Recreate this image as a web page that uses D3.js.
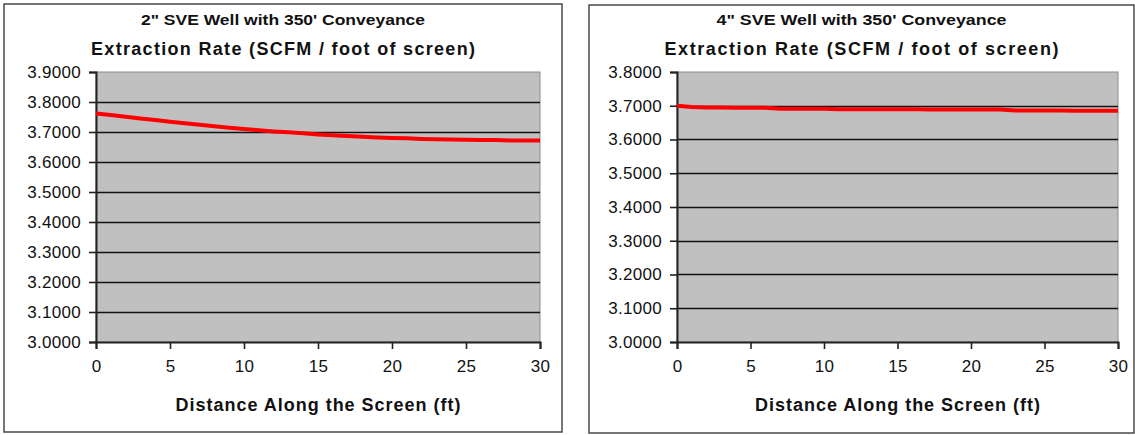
<!DOCTYPE html>
<html>
<head>
<meta charset="utf-8">
<script src="https://cdn.jsdelivr.net/npm/d3@7"></script>
<style>
  html, body { margin: 0; padding: 0; background: #fff; }
  svg { display: block; }
  text { font-family: "Liberation Sans", Arial, sans-serif; fill: #111; }
</style>
</head>
<body>
<svg id="chart" width="1135" height="435"></svg>
<script>
// Distance along the well screen, in feet
const distanceFt = [0, 1, 2, 3, 4, 5, 6, 7, 8, 9, 10, 11, 12, 13, 14, 15,
                    16, 17, 18, 19, 20, 21, 22, 23, 24, 25, 26, 27, 28, 29, 30];

// Extraction rate per foot of screen, 2" well
const rate2in = [3.762, 3.757, 3.751, 3.745, 3.740, 3.734, 3.729, 3.724, 3.719, 3.714,
                 3.710, 3.706, 3.702, 3.699, 3.696, 3.692, 3.689, 3.687, 3.684, 3.682,
                 3.680, 3.679, 3.677, 3.676, 3.675, 3.674, 3.673, 3.673, 3.672, 3.672, 3.672];

// Extraction rate per foot of screen, 4" well
const rate4in = [3.700, 3.696, 3.695, 3.695, 3.694, 3.694, 3.694, 3.691, 3.691, 3.691,
                 3.691, 3.690, 3.690, 3.690, 3.690, 3.690, 3.690, 3.689, 3.689, 3.689,
                 3.689, 3.689, 3.689, 3.686, 3.686, 3.686, 3.686, 3.685, 3.685, 3.685, 3.685];

const xTickValues = [0, 5, 10, 15, 20, 25, 30];
const yTicks2in = [3.0, 3.1, 3.2, 3.3, 3.4, 3.5, 3.6, 3.7, 3.8, 3.9];
const yTicks4in = [3.0, 3.1, 3.2, 3.3, 3.4, 3.5, 3.6, 3.7, 3.8];

const titles2in = ["2\" SVE Well with 350' Conveyance", "Extraction Rate (SCFM / foot of screen)"];
const titles4in = ["4\" SVE Well  with 350' Conveyance", "Extraction Rate (SCFM / foot of screen)"];
const xAxisTitle = "Distance Along the Screen (ft)";

const svg = d3.select("#chart");
const fmt = d3.format(".4f");

function drawPanel(p) {
  const g = svg.append("g");

  // chart frame
  g.append("rect")
    .attr("x", p.frame[0]).attr("y", p.frame[1])
    .attr("width", p.frame[2] - p.frame[0]).attr("height", p.frame[3] - p.frame[1])
    .attr("fill", "#fff").attr("stroke", "#4a4a4a").attr("stroke-width", 1.5);

  const x = d3.scaleLinear().domain([0, 30]).range([p.plot[0], p.plot[2]]);
  const y = d3.scaleLinear().domain(d3.extent(p.yTicks)).range([p.plot[3], p.plot[1]]);

  // plot area
  g.append("rect")
    .attr("x", p.plot[0]).attr("y", p.plot[1])
    .attr("width", p.plot[2] - p.plot[0]).attr("height", p.plot[3] - p.plot[1])
    .attr("fill", "#c0c0c0").attr("stroke", "#8c8c8c").attr("stroke-width", 1);

  // horizontal gridlines
  g.append("g").selectAll("line")
    .data(p.yTicks.slice(1, -1))
    .join("line")
    .attr("x1", p.plot[0]).attr("x2", p.plot[2])
    .attr("y1", d => Math.round(y(d)) + 0.5).attr("y2", d => Math.round(y(d)) + 0.5)
    .attr("stroke", "#111").attr("stroke-width", 1.6);

  // y axis
  const yAxis = d3.axisLeft(y).tickValues(p.yTicks).tickFormat(fmt)
    .tickSize(7).tickPadding(8);
  const ya = g.append("g").attr("transform", `translate(${p.plot[0]},0)`).call(yAxis);
  ya.select(".domain").attr("stroke", "#222").attr("stroke-width", 2);
  ya.selectAll(".tick line").attr("stroke", "#222").attr("stroke-width", 1.6);
  ya.selectAll(".tick text")
    .attr("font-size", 17).attr("letter-spacing", 0.3)
    .attr("fill", "#222").style("font-family", "'Liberation Sans', Arial, sans-serif");

  // x axis
  const xAxis = d3.axisBottom(x).tickValues(xTickValues).tickFormat(d3.format("d"))
    .tickSize(7).tickPadding(11);
  const xa = g.append("g").attr("transform", `translate(0,${p.plot[3]})`).call(xAxis);
  xa.select(".domain").attr("stroke", "#222").attr("stroke-width", 2);
  xa.selectAll(".tick line").attr("stroke", "#222").attr("stroke-width", 1.6);
  xa.selectAll(".tick text")
    .attr("font-size", 17).attr("letter-spacing", 0.3)
    .attr("fill", "#222").style("font-family", "'Liberation Sans', Arial, sans-serif");

  // data series
  const line = d3.line().x((d, i) => x(distanceFt[i])).y(d => y(d));
  g.append("path")
    .datum(p.values)
    .attr("d", line)
    .attr("fill", "none")
    .attr("stroke", "#ff0000")
    .attr("stroke-width", 4);

  // titles
  const cx = (p.frame[0] + p.frame[2]) / 2;
  g.append("text")
    .attr("x", cx).attr("y", 25).attr("text-anchor", "middle")
    .attr("font-size", 14.5).attr("font-weight", "bold")
    .attr("textLength", p.titleW[0]).attr("lengthAdjust", "spacingAndGlyphs")
    .text(p.titles[0]);
  g.append("text")
    .attr("x", cx).attr("y", 55).attr("text-anchor", "middle")
    .attr("font-size", 18).attr("font-weight", "bold")
    .attr("textLength", p.titleW[1]).attr("lengthAdjust", "spacing")
    .text(p.titles[1]);

  // x axis title
  g.append("text")
    .attr("x", (p.plot[0] + p.plot[2]) / 2).attr("y", 411).attr("text-anchor", "middle")
    .attr("font-size", 18).attr("font-weight", "bold")
    .attr("textLength", 285).attr("lengthAdjust", "spacing")
    .text(xAxisTitle);
}

drawPanel({
  frame: [4, 4, 562, 432],
  plot: [96, 72, 540, 342],
  yTicks: yTicks2in,
  values: rate2in,
  titles: titles2in,
  titleW: [284, 384]
});

drawPanel({
  frame: [589, 5, 1134, 433],
  plot: [677, 72, 1118, 342],
  yTicks: yTicks4in,
  values: rate4in,
  titles: titles4in,
  titleW: [290, 394]
});
</script>
</body>
</html>
